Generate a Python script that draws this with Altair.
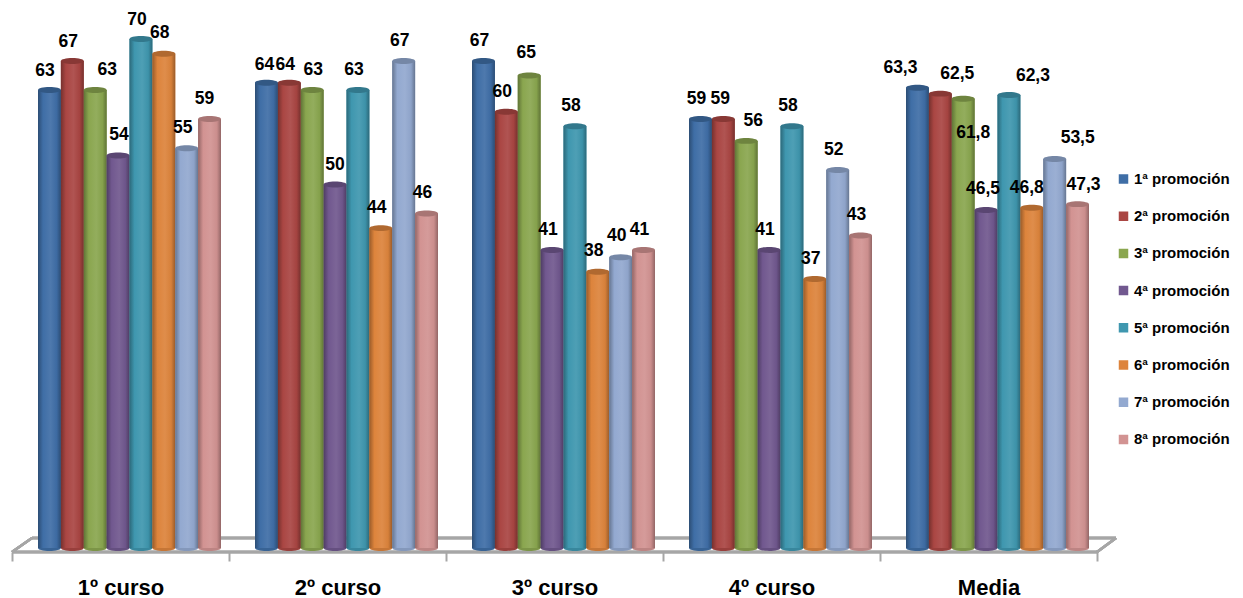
import altair as alt
import pandas as pd

categories = ["1º curso", "2º curso", "3º curso", "4º curso", "Media"]
series = ["1ª promoción", "2ª promoción", "3ª promoción", "4ª promoción",
          "5ª promoción", "6ª promoción", "7ª promoción", "8ª promoción"]
curso1 = [63, 67, 63, 54, 70, 68, 55, 59]
curso2 = [64, 64, 63, 50, 63, 44, 67, 46]
curso3 = [67, 60, 65, 41, 58, 38, 40, 41]
curso4 = [59, 59, 56, 41, 58, 37, 52, 43]
media = [63.3, 62.5, 61.8, 46.5, 62.3, 46.8, 53.5, 47.3]
colors = ["#3F6EA6", "#AA4643", "#8AA64F", "#71588F", "#3F97AF", "#DD843C", "#93A9D0", "#D29392"]

# manual data-label nudges as placed in the reference
nudge_x = [[-4.5, -4, 12, 1, -4, -4, -4, -5],
           [-2, -4, 1, 0, -4, -4, -4, -4],
           [-4, -4, -3, -4, -4, -4, -4, -4],
           [-4, -3, 7, -4, -4, -4, -4, -4],
           [-17, 17, 10, -3, 24, -5, 23, 6]]
nudge_y = [[-19, -19, -20, -20, -19, -21, -20, -20],
           [-18, -18, -20, -20, -20, -20, -20, -21],
           [-20, -20, -22, -20, -20, -21, -21, -20],
           [-20, -20, -20, -20, -20, -20, -20, -20],
           [-20, -20, 34, -21, -19, -20, -21, -19]]

table = [curso1, curso2, curso3, curso4, media]
rows = []
for c, vals in zip(categories, table):
    for s, v in zip(series, vals):
        rows.append({"curso": c, "serie": s, "valor": v,
                     "texto": str(v).replace(".", ",")})
df = pd.DataFrame(rows)


def shade(hex_color, k):
    r, g, b = (int(hex_color[i:i + 2], 16) for i in (1, 3, 5))
    if k <= 1:
        r, g, b = r * k, g * k, b * k
    else:
        t = k - 1
        r, g, b = r + (255 - r) * t, g + (255 - g) * t, b + (255 - b) * t
    return "#%02x%02x%02x" % (int(r), int(g), int(b))


X = alt.X("curso:N", sort=categories, title=None,
          scale=alt.Scale(paddingInner=0, paddingOuter=0),
          axis=alt.Axis(labelAngle=0, domain=False, tickBand="extent", tickSize=9,
                        tickColor="#A6A6A6", tickWidth=2, offset=4, labelPadding=16,
                        labelFont="Liberation Sans", labelFontWeight="bold",
                        labelFontSize=22, labelColor="#000000", grid=False))
XO = alt.XOffset("serie:N", sort=series,
                 scale=alt.Scale(domain=series, range=[26, 209], paddingInner=0, paddingOuter=0))
y_scale = alt.Scale(domain=[0, 540 / 7.27], nice=False)
Y = alt.Y("valor:Q", title=None, axis=None, scale=y_scale)

FLOOR = "#A6A6A6"
floor_segments = [(0, 1085, 544, 544), (20, 1104, 530, 530), (0, 20, 544, 530), (1085, 1104, 544, 530)]
layers = []
for x0, x1, y0, y1 in floor_segments:
    layers.append(alt.Chart(df).transform_filter(alt.datum.serie == series[0]).mark_rule(
        color=FLOOR, strokeWidth=2.5
    ).encode(x=alt.value(x0), x2=alt.value(x1), y=alt.value(y0), y2=alt.value(y1)))

legend = alt.Legend(title=None, orient="none", legendX=1104, legendY=163, symbolType="square",
                    symbolSize=90, symbolStrokeWidth=0, labelFont="Liberation Sans",
                    labelFontWeight="bold", labelFontSize=15, labelColor="#000000",
                    clipHeight=16, rowPadding=21.2, labelOffset=3, padding=0)
layers.append(alt.Chart(df).mark_bar().encode(
    x=X, xOffset=XO, y=Y,
    color=alt.Color("serie:N", sort=series, legend=legend,
                    scale=alt.Scale(domain=series, range=colors))))

ELLIPSE = "M-1,0A1,.26,0,1,1,1,0A1,.26,0,1,1,-1,0Z"
for s, col in zip(series, colors):
    sub = alt.Chart(df).transform_filter(alt.datum.serie == s)
    grad = alt.Gradient(gradient="linear", x1=0, y1=0, x2=1, y2=0, stops=[
        alt.GradientStop(color=shade(col, 0.7), offset=0),
        alt.GradientStop(color=shade(col, 1.0), offset=0.22),
        alt.GradientStop(color=shade(col, 1.08), offset=0.55),
        alt.GradientStop(color=shade(col, 0.97), offset=0.82),
        alt.GradientStop(color=shade(col, 0.7), offset=1),
    ])
    layers.append(sub.transform_calculate(cero="0").mark_point(
        shape=ELLIPSE, size=529, filled=True, opacity=1, color=shade(col, 0.9), strokeWidth=0
    ).encode(x=X, xOffset=XO, y=alt.Y("cero:Q", scale=y_scale, axis=None, title=None)))
    layers.append(sub.mark_bar(color=grad).encode(x=X, xOffset=XO, y=Y))
    layers.append(sub.mark_point(
        shape=ELLIPSE, size=529, filled=True, opacity=1, color=shade(col, 0.8), strokeWidth=0
    ).encode(x=X, xOffset=XO, y=Y))

for g, c in enumerate(categories):
    for i, s in enumerate(series):
        layers.append(alt.Chart(df).transform_filter(
            (alt.datum.serie == s) & (alt.datum.curso == c)
        ).mark_text(font="Liberation Sans", fontWeight="bold", fontSize=17.5, color="#000000",
                    baseline="middle", align="center",
                    dx=nudge_x[g][i], dy=nudge_y[g][i]
        ).encode(x=X, xOffset=XO, y=Y, text="texto:N"))

chart = alt.layer(*layers).properties(
    width=1085, height=540,
    autosize=alt.AutoSizeParams(type="none"),
    padding={"left": 4, "top": 0, "right": 138, "bottom": 50},
    background="#FFFFFF",
).configure_view(stroke=None)

chart.save("out.html", embed_options={"renderer": "svg", "actions": False})
